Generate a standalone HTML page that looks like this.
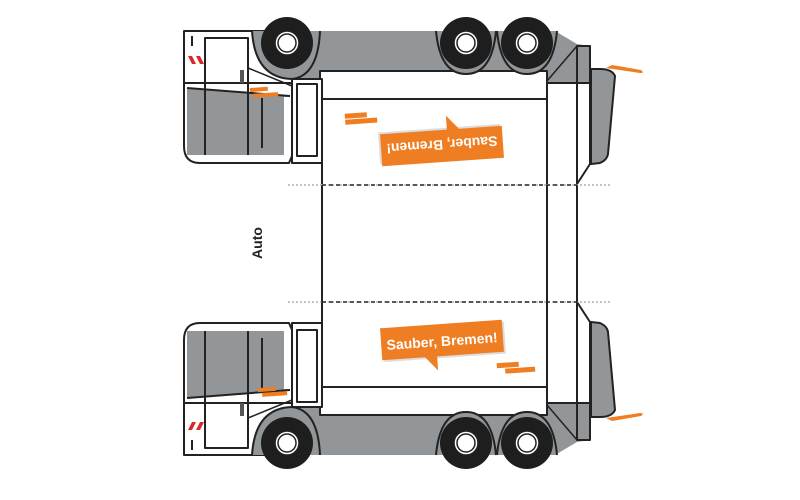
<!DOCTYPE html>
<html><head><meta charset="utf-8"><style>
html,body{margin:0;padding:0;background:#fff;}
svg{display:block;}
text{font-family:"Liberation Sans",sans-serif;}
</style></head><body>
<svg width="800" height="500" viewBox="0 0 800 500" xmlns="http://www.w3.org/2000/svg">
<defs>
<g id="truck" stroke="#222" stroke-width="2" stroke-linejoin="round">
  <!-- chassis gray -->
  <path d="M262 405 L547 405 L547 403 L590 403 L590 440 L577 442 L555 455 L262 455 Z" fill="#939698" stroke="none"/>
  <path d="M577 302 L577 440 L590 440 L590 322 L577 302" fill="none"/>
  <path d="M547 403 L590 403" fill="none"/>
  <path d="M547 405 L577 440" fill="none" stroke-width="1.5"/>
  <!-- tail -->
  <path d="M591 322 L600 323 Q607 326 608 332 L615 410 Q612 417 600 417 L591 417 Z" fill="#939698"/>
  <path d="M606 418 L640 413 Q645 413 641 416 L612 421 Z" fill="#ef7d22" stroke="none"/>
  <!-- body -->
  <rect x="322" y="302" width="225" height="85" fill="#fff" stroke="none"/>
  <path d="M322 302 L322 387 M547 302 L547 403" fill="none"/>
  <rect x="320" y="387" width="227" height="28" fill="#fff"/>
  <!-- connector panel -->
  <rect x="292" y="323" width="30" height="84" fill="#fff"/>
  <rect x="297" y="330" width="20" height="72" fill="#fff"/>
  <!-- cab -->
  <path d="M184 455 L184 340 Q184 323 200 323 L289 323 L292 330 L292 455 Z" fill="#fff"/>
  <path d="M187 331 L290 331 L290 390 L187 398 Z" fill="#939698" stroke="none"/>
  <rect x="284" y="331" width="6" height="58" fill="#fff" stroke="none"/>
  <path d="M187 398 L290 390" fill="none"/>
  <path d="M184 403 L292 403" fill="none"/>
  <path d="M205 331 L205 448 L248 448 L248 331" fill="none"/>
  <path d="M262 338 L262 388" fill="none"/>
  <rect x="240" y="403" width="4" height="13" fill="#555" stroke="none"/>
  <path d="M248 418 L292 400" fill="none" stroke-width="1.5"/>
  <path d="M186 422 L204 422 L204 430 L186 430 Z" fill="#fff" stroke="none"/>
  <path d="M188 430 L192 422 L196 422 L192 430 Z M196 430 L200 422 L204 422 L200 430 Z" fill="#d9292b" stroke="none"/>
  <path d="M192 440 L192 450" fill="none"/>
  <!-- wheel arches -->
  <path d="M252 455 Q255 408 292 407 Q318 410 320 455" fill="#939698"/>
  <path d="M436 455 Q440 412 466 412 Q492 412 496 455" fill="#939698"/>
  <path d="M497 455 Q501 412 527 412 Q553 412 557 455" fill="#939698"/>
  <!-- wheels -->
  <g fill="#1e1e1e" stroke="none">
    <circle cx="287" cy="443" r="26"/><circle cx="466" cy="443" r="26"/><circle cx="527" cy="443" r="26"/>
  </g>
  <g fill="#fff" stroke="#222" stroke-width="1.5">
    <circle cx="287" cy="443" r="12"/><circle cx="466" cy="443" r="12"/><circle cx="527" cy="443" r="12"/>
    <circle cx="287" cy="443" r="9"/><circle cx="466" cy="443" r="9"/><circle cx="527" cy="443" r="9"/>
  </g>
</g>
</defs>

<use href="#truck"/>
<use href="#truck" transform="matrix(1,0,0,-1,0,486)"/>

<!-- roof section -->
<path d="M322 185 L322 302 M547 185 L547 302 M577 185 L577 302" stroke="#222" stroke-width="2"/>
<path d="M288 185 L612 185 M288 302 L612 302" stroke="#888" stroke-width="1" stroke-dasharray="2,2"/>
<path d="M322 185 L577 185 M322 302 L577 302" stroke="#222" stroke-width="1.5" stroke-dasharray="4,3"/>

<text x="262" y="243" font-size="14" font-weight="bold" fill="#222" transform="rotate(-90 262 243)" text-anchor="middle">Auto</text>

<!-- bottom bubble -->
<g transform="rotate(-4 442 340)">
  <rect x="383" y="326" width="122" height="32" fill="#ddd"/>
  <rect x="381" y="324" width="122" height="32" fill="#ef7d22"/>
  <path d="M423 355 L436 370 L436 355 Z" fill="#ef7d22"/>
  <text x="442" y="346" font-size="14" font-weight="bold" fill="#fff" text-anchor="middle">Sauber, Bremen!</text>
</g>
<g transform="rotate(-4 515 368)">
  <rect x="497" y="362" width="22" height="5" fill="#ef7d22"/>
  <rect x="505" y="368" width="30" height="5" fill="#ef7d22"/>
</g>
<g transform="rotate(-4 260 392)">
  <rect x="258" y="388" width="18" height="4" fill="#ef7d22"/>
  <rect x="262" y="393" width="25" height="4" fill="#ef7d22"/>
</g>

<!-- top bubble (rotated 180) -->
<g transform="rotate(176 442 146)">
  <rect x="383" y="132" width="122" height="32" fill="#ddd"/>
  <rect x="381" y="130" width="122" height="32" fill="#ef7d22"/>
  <path d="M423 161 L436 176 L436 161 Z" fill="#ef7d22"/>
  <text x="442" y="152" font-size="14" font-weight="bold" fill="#fff" text-anchor="middle">Sauber, Bremen!</text>
</g>
<g transform="rotate(176 356 118)">
  <rect x="335" y="112" width="32" height="5" fill="#ef7d22"/>
  <rect x="345" y="118" width="22" height="5" fill="#ef7d22"/>
</g>
<g transform="rotate(176 265 92)">
  <rect x="252" y="87" width="25" height="4" fill="#ef7d22"/>
  <rect x="262" y="93" width="18" height="4" fill="#ef7d22"/>
</g>
</svg>
</body></html>
